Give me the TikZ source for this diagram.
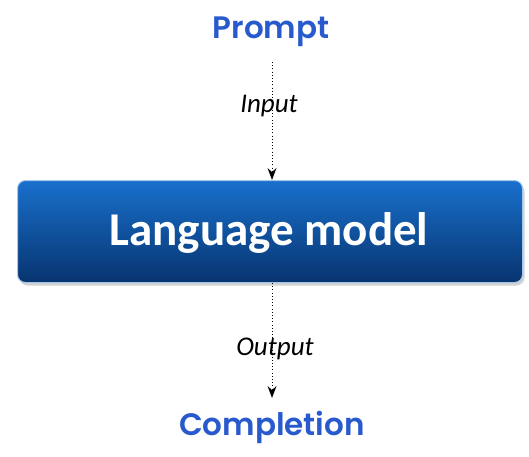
\documentclass[tikz,border=0pt]{standalone}
\usepackage{fontspec}
\setmainfont{Carlito}
\newfontfamily\headfont{Poppins}[BoldFont={Poppins SemiBold}]
\usetikzlibrary{arrows.meta,shadows}
\definecolor{headblue}{RGB}{40,90,206}
\definecolor{boxtop}{RGB}{24,112,204}
\definecolor{boxbot}{RGB}{8,52,112}
\tikzset{
  endword/.style={text=headblue, font=\headfont\bfseries\fontsize{31}{31}\selectfont, inner sep=0pt, anchor=base},
  flowlabel/.style={font=\itshape\fontsize{27}{27}\selectfont, inner sep=0pt, anchor=base},
  flow/.style={line width=1pt, dash pattern=on 1pt off 2.2pt, -{Stealth[length=12pt,width=9pt,inset=4pt,line width=0pt]}}
}
\begin{document}
\begin{tikzpicture}[x=1pt,y=-1pt]
\useasboundingbox (0,0) rectangle (529,456);
\node[endword] (prompt) at (271,38) {Prompt};
\node[draw=boxtop!40!white, line width=1pt, rounded corners=8pt,
      top color=boxtop, bottom color=boxbot,
      drop shadow={shadow xshift=2pt, shadow yshift=-3pt, opacity=0.35},
      minimum width=505pt, minimum height=102pt] (lm) at (270,231.5) {};
\node[text=white, font=\bfseries\fontsize{47}{47}\selectfont, inner sep=0pt, anchor=base] (lmtext) at (269,245) {Language model};
\node[endword] (completion) at (272,435) {Completion};
\coordinate (inTop) at (272,62);
\coordinate (outEnd) at (272,398);
\draw[flow] (inTop) -- (inTop |- lm.north);
\draw[flow] (outEnd |- lm.south) -- (outEnd);
\node[flowlabel] (input) at (269,112) {Input};
\node[flowlabel] (output) at (275,355) {Output};
\end{tikzpicture}
\end{document}
